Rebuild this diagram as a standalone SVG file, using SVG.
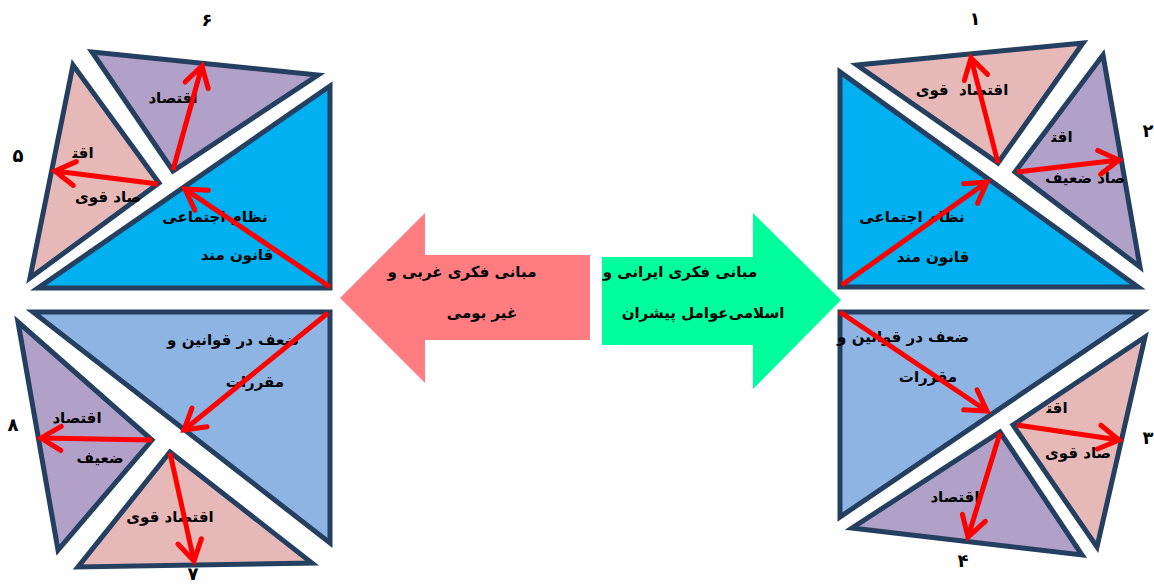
<svg xmlns="http://www.w3.org/2000/svg" width="1154" height="585" viewBox="0 0 1154 585">
<style>
.tri{stroke:#243F60;stroke-width:5;stroke-linejoin:miter}
.blue{fill:#00B0F0}.lblue{fill:#8EB4E3}.purp{fill:#B1A0C7}.pink{fill:#E6B9B8}
.arr{stroke:#FF0000;stroke-width:5;fill:none;marker-end:url(#ah)}
text{font-family:"DejaVu Sans",sans-serif;font-weight:bold;font-size:15px;fill:#000;text-anchor:middle;direction:rtl;white-space:pre}
.num{font-size:18px}
</style>
<defs>
<marker id="ah" viewBox="-26 -16 30 32" refX="0" refY="0" markerWidth="30" markerHeight="32" markerUnits="userSpaceOnUse" orient="auto" overflow="visible">
<path d="M-20,-12 L0,0 L-20,12" fill="none" stroke="#FF0000" stroke-width="5" stroke-linecap="round"/>
</marker>
</defs>
<rect width="1154" height="585" fill="#fff"/>

<g id="left-blue-top"><polygon class="tri blue" points="330,86 330,288 38,288"/>
<text x="215" y="222">نظام اجتماعی</text><text x="237" y="260">قانون مند</text></g>
<g id="left-purple-6"><polygon class="tri purp" points="92,52 318,75 173,171"/>
<text x="173" y="103">اقتصاد</text><text class="num" x="207" y="26">۶</text></g>
<g id="left-pink-5"><polygon class="tri pink" points="73,65 30,278 159,183"/>
<text x="83" y="158">اقت&#x200D;</text><text x="108" y="202">صاد قوی</text><text class="num" x="18" y="162">۵</text></g>

<g id="left-lblue-bottom"><polygon class="tri lblue" points="33,312 330,312 330,543"/>
<text x="233" y="345">ضعف در قوانین و</text><text x="255" y="387">مقررات</text></g>
<g id="left-purple-8"><polygon class="tri purp" points="18,322 152,440 58,550"/>
<text x="77" y="423">اقتصاد</text><text x="100" y="463">ضعیف</text><text class="num" x="13" y="431">۸</text></g>
<g id="left-pink-7"><polygon class="tri pink" points="170,452 312,563 78,567"/>
<text x="170" y="522">اقتصاد قوی</text><text class="num" x="193" y="580">۷</text></g>

<g id="right-blue-top"><polygon class="tri blue" points="840,72 840,287 1138,287"/>
<text x="912" y="222">نظام اجتماعی</text><text x="933" y="262">قانون مند</text></g>
<g id="right-pink-1"><polygon class="tri pink" points="857,65 1083,43 998,163"/>
<text x="962" y="95">اقتصاد  قوی</text><text class="num" x="975" y="25">۱</text></g>
<g id="right-purple-2"><polygon class="tri purp" points="1103,55 1140,267 1015,172"/>
<text x="1062" y="142">اقت&#x200D;</text><text x="1085" y="183">صاد ضعیف</text><text class="num" x="1148" y="137">۲</text></g>

<g id="right-lblue-bottom"><polygon class="tri lblue" points="840,312 1142,312 840,517"/>
<text x="903" y="342">ضعف در قوانین و</text><text x="928" y="382">مقررات</text></g>
<g id="right-pink-3"><polygon class="tri pink" points="1145,337 1013,425 1097,547"/>
<text x="1057" y="413">اقت&#x200D;</text><text x="1078" y="458">صاد قوی</text><text class="num" x="1148" y="444">۳</text></g>
<g id="right-purple-4"><polygon class="tri purp" points="1000,432 1082,555 852,528"/>
<text x="955" y="502">اقتصاد</text><text class="num" x="963" y="567">۴</text></g>

<g id="center-red-arrow"><polygon fill="#FF7C80" points="340,298 425,213 425,255 590,255 590,340 425,340 425,383"/>
<text x="462" y="277">مبانی فکری غربی و</text><text x="482" y="318">غیر بومی</text></g>
<g id="center-green-arrow"><polygon fill="#00FF9C" points="602,257 753,257 753,213 841,300 753,389 753,345 602,345"/>
<text x="680" y="277">مبانی فکری ایرانی و</text><text x="703" y="318">اسلامی&#x200C;عوامل پیشران</text></g>

<g id="connectors">
<line class="arr" x1="330" y1="287" x2="185" y2="189"/>
<line class="arr" x1="173" y1="170" x2="202" y2="66"/>
<line class="arr" x1="158" y1="184" x2="55" y2="171"/>
<line class="arr" x1="328" y1="313" x2="184" y2="430"/>
<line class="arr" x1="152" y1="440" x2="41" y2="438"/>
<line class="arr" x1="170" y1="453" x2="194" y2="561"/>
<line class="arr" x1="842" y1="285" x2="987" y2="182"/>
<line class="arr" x1="998" y1="163" x2="971" y2="58"/>
<line class="arr" x1="1017" y1="172" x2="1119" y2="160"/>
<line class="arr" x1="840" y1="312" x2="987" y2="411"/>
<line class="arr" x1="1017" y1="425" x2="1119" y2="440"/>
<line class="arr" x1="1000" y1="433" x2="968" y2="537"/>
</g>
</svg>
